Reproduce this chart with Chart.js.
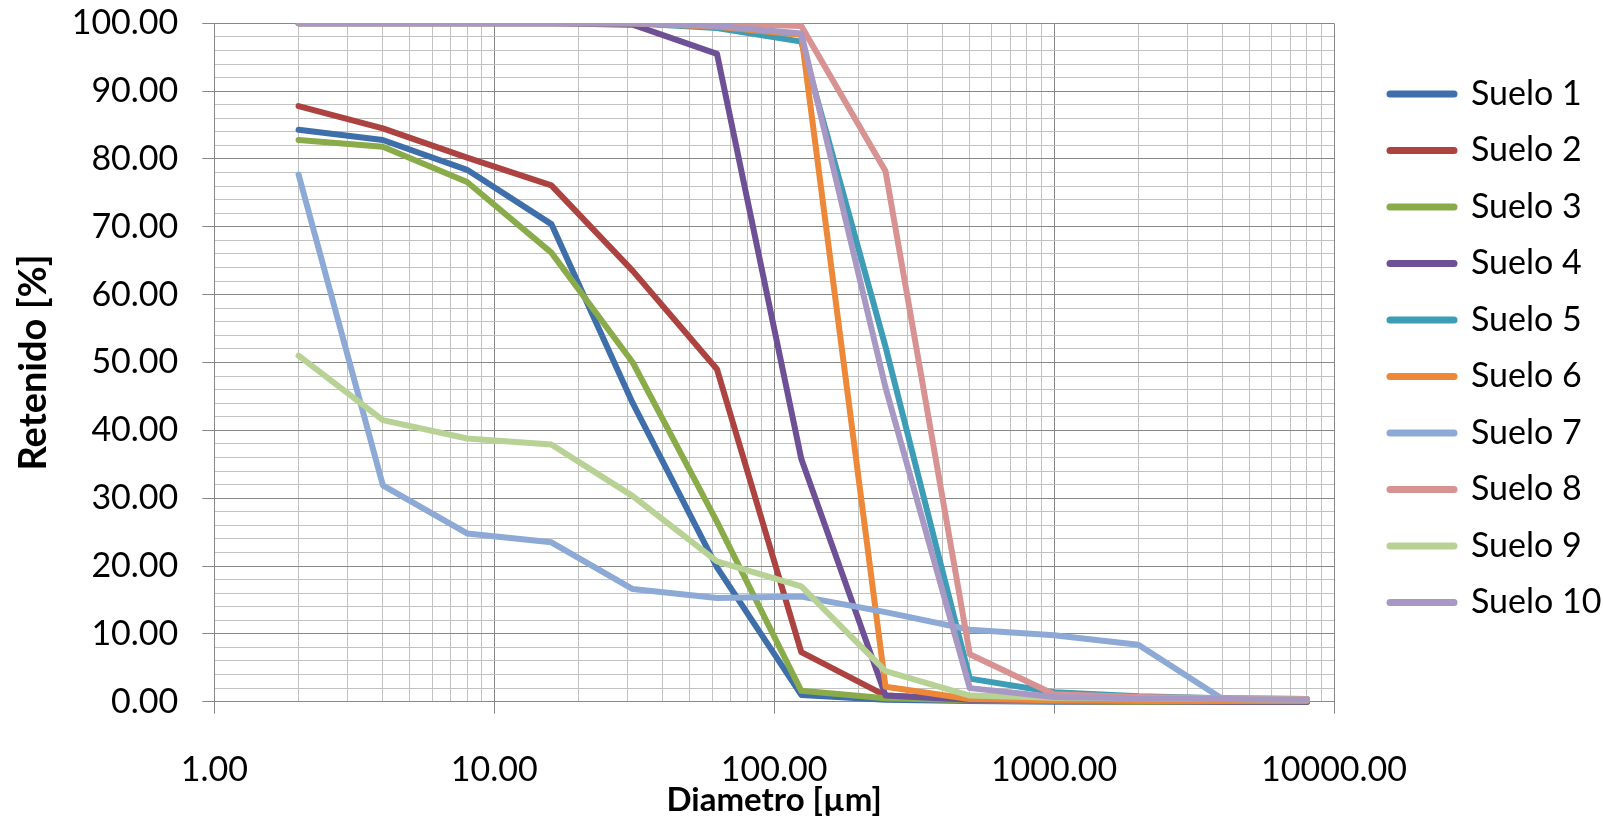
<!DOCTYPE html>
<html>
<head>
<meta charset="utf-8">
<script src="https://cdn.jsdelivr.net/npm/chart.js@4"></script>
<style>
  html, body { margin: 0; padding: 0; background: #ffffff; }
  #wrap { width: 1603px; height: 821px; position: relative; }
</style>
</head>
<body>
<div id="wrap"><canvas id="c" width="1603" height="821"></canvas></div>
<script>
// ---- data ----
const xValues = [2, 4, 8, 16, 31.25, 62.5, 125, 250, 500, 1000, 2000, 4000, 8000];
const seriesNames = ['Suelo 1', 'Suelo 2', 'Suelo 3', 'Suelo 4', 'Suelo 5', 'Suelo 6', 'Suelo 7', 'Suelo 8', 'Suelo 9', 'Suelo 10'];
const suelo1  = [84.3, 82.8, 78.4, 70.4, 44.0, 19.8, 1.0, 0.3, 0.1, 0, 0, 0, 0];
const suelo2  = [87.8, 84.5, 80.2, 76.1, 63.5, 49.0, 7.3, 0.9, 0.3, 0.1, 0, 0, 0];
const suelo3  = [82.8, 81.8, 76.6, 66.2, 50.0, 26.5, 1.6, 0.5, 0.2, 0.1, 0, 0, 0];
const suelo4  = [100, 100, 100, 100, 99.8, 95.5, 35.8, 0.9, 0.3, 0.2, 0.1, 0, 0];
const suelo5  = [100, 100, 100, 100, 100, 99.3, 97.3, 52.3, 3.4, 1.4, 0.8, 0.5, 0.4];
const suelo6  = [100, 100, 100, 100, 100, 99.5, 98.3, 2.2, 0.4, 0.2, 0.1, 0.1, 0.1];
const suelo7  = [77.7, 31.9, 24.8, 23.5, 16.6, 15.3, 15.5, 13.2, 10.6, 9.8, 8.4, 0.4, 0.4];
const suelo8  = [100, 100, 100, 100, 100, 100, 99.6, 78.2, 7.0, 1.1, 0.7, 0.5, 0.4];
const suelo9  = [51.0, 41.5, 38.8, 37.9, 30.3, 20.7, 17.0, 4.5, 0.9, 0.6, 0.5, 0.4, 0.3];
const suelo10 = [100, 100, 100, 100, 100, 99.6, 98.5, 46.3, 2.0, 0.7, 0.5, 0.4, 0.3];
const seriesValues = [suelo1, suelo2, suelo3, suelo4, suelo5, suelo6, suelo7, suelo8, suelo9, suelo10];

const xTickValues = [1, 10, 100, 1000, 10000];
const xTickLabels = ['1.00', '10.00', '100.00', '1000.00', '10000.00'];
const yTickValues = [0, 10, 20, 30, 40, 50, 60, 70, 80, 90, 100];
const yTickLabels = ['0.00', '10.00', '20.00', '30.00', '40.00', '50.00', '60.00', '70.00', '80.00', '90.00', '100.00'];

// ---- styles ----
const colors = ['#3F6FAA', '#AC4340', '#8AAB4A', '#6E5096', '#3D9DB7', '#EC8838', '#8DA9D6', '#D89292', '#B8D296', '#A898C4'];
const MAJOR = '#878787';
const MINOR = '#c2c2c2';
const FONT = 'Lato';
const LEGEND_W = 269;
const LEGEND_X = 1390;      // start of legend line sample
const LEGEND_CY = 94;       // centre of first legend entry
const LEG_FONT = 34;
const LEG_PAD = 22.5;

const datasets = seriesNames.map((name, i) => ({
  label: name,
  data: xValues.map((x, j) => ({ x: x, y: seriesValues[i][j] })),
  borderColor: colors[i],
  backgroundColor: colors[i],
  borderWidth: 6,
  borderCapStyle: 'round',
  borderJoinStyle: 'round',
  pointRadius: 0,
  pointHoverRadius: 0,
  tension: 0,
  fill: false,
  order: seriesNames.length - 1 - i,
  clip: { left: 0, top: 0, right: 0, bottom: 4 }
}));

const layoutFix = {
  id: 'layoutFix',
  beforeLayout(chart) {
    const lg = chart.legend;
    if (lg && !lg.__wrapped) {
      const orig = lg.fit.bind(lg);
      lg.fit = function () { orig(); this.width = LEGEND_W; };
      lg.__wrapped = true;
    }
  },
  afterLayout(chart) {
    const lg = chart.legend;
    if (!lg) return;
    lg.left = LEGEND_X - LEG_PAD;
    lg.right = lg.left + LEGEND_W;
    lg.top = LEGEND_CY - LEG_FONT / 2 - LEG_PAD;
  }
};

function isMajorX(v) { return xTickValues.some(t => Math.abs(t - v) < 1e-9); }
function isMajorY(v) { return yTickValues.some(t => Math.abs(t - v) < 1e-9); }

new Chart(document.getElementById('c').getContext('2d'), {
  type: 'line',
  data: { datasets: datasets },
  plugins: [layoutFix],
  options: {
    responsive: false,
    animation: false,
    events: [],
    layout: { padding: { top: 23.3, left: 0, right: 0, bottom: 0 } },
    plugins: {
      tooltip: { enabled: false },
      legend: {
        position: 'right',
        align: 'start',
        labels: {
          usePointStyle: true,
          pointStyleWidth: 64,
          padding: LEG_PAD,
          color: '#111',
          font: { family: FONT, size: LEG_FONT },
          generateLabels: (chart) => chart.data.datasets.map((ds, i) => ({
            text: ds.label,
            fillStyle: ds.borderColor,
            strokeStyle: ds.borderColor,
            lineWidth: 7,
            lineCap: 'round',
            pointStyle: 'line',
            hidden: false,
            datasetIndex: i
          }))
        }
      }
    },
    scales: {
      x: {
        type: 'logarithmic',
        position: 'bottom',
        min: 1,
        max: 10000,
        afterBuildTicks: (s) => {
          s.ticks = s.ticks.filter(t => {
            const e = Math.floor(Math.log10(t.value) + 1e-9);
            const m = t.value / Math.pow(10, e);
            return Math.abs(m - 1.5) > 1e-6;
          });
        },
        afterFit: (s) => { s.height = 821 - 701.7; },
        grid: {
          color: (c) => isMajorX(c.tick.value) ? MAJOR : MINOR,
          tickColor: (c) => isMajorX(c.tick.value) ? MAJOR : 'rgba(0,0,0,0)',
          tickLength: 12,
          lineWidth: 1
        },
        border: { color: MAJOR, width: 1 },
        ticks: {
          autoSkip: false,
          maxRotation: 0,
          minRotation: 0,
          padding: 36,
          color: '#000',
          font: { family: FONT, size: 34 },
          callback: (v) => {
            const k = xTickValues.findIndex(t => Math.abs(t - v) < 1e-9);
            return k >= 0 ? xTickLabels[k] : '';
          }
        },
        title: {
          display: true,
          text: 'Diametro [µm]',
          color: '#000',
          font: { family: FONT, size: 33, weight: 'bold' },
          padding: { top: 0, bottom: 1 }
        }
      },
      y: {
        type: 'linear',
        min: 0,
        max: 100,
        afterFit: (s) => { s.width = 214.3; s.paddingTop = 0; s.paddingBottom = 0; },
        grid: {
          color: (c) => isMajorY(c.tick.value) ? MAJOR : MINOR,
          tickColor: (c) => isMajorY(c.tick.value) ? MAJOR : 'rgba(0,0,0,0)',
          tickLength: 12,
          lineWidth: 1
        },
        border: { color: MAJOR, width: 1 },
        ticks: {
          stepSize: 2,
          maxTicksLimit: 100,
          autoSkip: false,
          padding: 24,
          color: '#000',
          font: { family: FONT, size: 34 },
          callback: (v) => {
            const k = yTickValues.findIndex(t => Math.abs(t - v) < 1e-9);
            return k >= 0 ? yTickLabels[k] : '';
          }
        },
        title: {
          display: true,
          text: 'Retenido [%]',
          color: '#000',
          font: { family: FONT, size: 38, weight: 'bold' },
          padding: { top: 11, bottom: 0 }
        }
      }
    }
  }
});
</script>
</body>
</html>
